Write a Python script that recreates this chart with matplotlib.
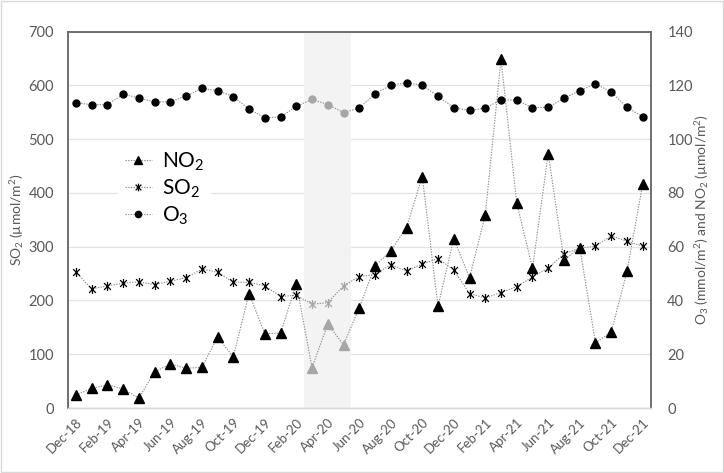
import matplotlib
matplotlib.use("Agg")
import matplotlib.pyplot as plt
from matplotlib.lines import Line2D
from matplotlib.path import Path
from matplotlib.patches import Rectangle
import numpy as np

plt.rcParams['font.family'] = ['Lato', 'DejaVu Sans']
plt.rcParams['mathtext.fontset'] = 'custom'
plt.rcParams['mathtext.rm'] = 'Lato'
plt.rcParams['mathtext.it'] = 'Lato:italic'
plt.rcParams['mathtext.bf'] = 'Lato:bold'

months = ['Dec-18', 'Jan-19', 'Feb-19', 'Mar-19', 'Apr-19', 'May-19', 'Jun-19', 'Jul-19', 'Aug-19',
          'Sep-19', 'Oct-19', 'Nov-19', 'Dec-19', 'Jan-20', 'Feb-20', 'Mar-20', 'Apr-20', 'May-20',
          'Jun-20', 'Jul-20', 'Aug-20', 'Sep-20', 'Oct-20', 'Nov-20', 'Dec-20', 'Jan-21', 'Feb-21',
          'Mar-21', 'Apr-21', 'May-21', 'Jun-21', 'Jul-21', 'Aug-21', 'Sep-21', 'Oct-21', 'Nov-21',
          'Dec-21']

so2 = [252.6, 221.6, 227.2, 232.1, 234.6, 229.6, 235.8, 242.6, 258.2, 252.6, 234.0, 234.0, 227.2,
       207.3, 209.8, 193.1, 196.1, 227.2, 244.5, 248.2, 266.8, 254.5, 268.1, 278.0, 256.9, 212.8,
       204.8, 214.7, 225.8, 243.9, 260.1, 286.7, 297.3, 301.1, 320.2, 310.4, 301.1]

no2 = [4.8, 7.3, 8.6, 7.1, 3.7, 13.4, 16.4, 14.8, 15.1, 26.4, 19.0, 42.6, 27.7, 27.8, 46.2, 15.0,
       31.3, 23.5, 37.3, 52.9, 58.5, 67.1, 86.1, 37.9, 63.0, 48.5, 71.7, 129.8, 76.2, 52.1, 94.6,
       55.0, 59.7, 24.3, 28.2, 50.8, 83.3]

o3 = [113.6, 112.8, 112.9, 116.7, 115.4, 113.8, 114.0, 116.0, 118.9, 118.1, 115.8, 111.2, 108.0,
      108.3, 112.2, 114.8, 112.9, 109.9, 111.6, 116.9, 120.1, 121.0, 120.1, 116.0, 111.7, 110.7,
      111.6, 114.6, 114.6, 111.7, 111.9, 115.2, 118.1, 120.6, 117.6, 111.8, 108.4]

lockdown = ['Mar-20', 'Apr-20', 'May-20']

x = np.arange(len(months))
lock_mask = np.array([m in lockdown for m in months])
lock_idx = np.where(lock_mask)[0]

fig = plt.figure(figsize=(7.24, 4.73), dpi=100)
fig.patches.append(Rectangle((0.002, 0.003), 0.996, 0.994, transform=fig.transFigure,
                             fill=False, edgecolor='#d9d9d9', linewidth=1.0))
ax = fig.add_axes([0.0939, 0.1374, 0.8047, 0.7956])
ax2 = ax.twinx()
ax.set_zorder(1)
ax2.set_zorder(2)
ax.patch.set_facecolor('white')
ax2.patch.set_visible(False)

# gridlines (below) and shaded lockdown region (covers gridlines)
ax.yaxis.grid(True, color='#e3e3e3', lw=0.9)
ax.set_axisbelow(True)
ax.axvspan(lock_idx[0] - 0.5, lock_idx[-1] + 0.5, color='#f3f3f3', zorder=1, lw=0)

# asterisk marker: vertical line plus X
ast_verts = [(0, -1), (0, 1), (-0.75, -0.75), (0.75, 0.75), (-0.75, 0.75), (0.75, -0.75)]
ast_codes = [Path.MOVETO, Path.LINETO, Path.MOVETO, Path.LINETO, Path.MOVETO, Path.LINETO]
ast = Path(ast_verts, ast_codes)

line_col = '#8c8c8c'
gray_mk = '#a6a6a6'
ls = (0, (1.2, 1.2))

# SO2 on left axis
ax.plot(x, so2, color=line_col, lw=0.8, ls=ls, zorder=2)
ax.plot(x[~lock_mask], np.array(so2)[~lock_mask], ls='none', marker=ast, ms=6.5,
        mec='black', mew=0.9, zorder=3)
ax.plot(x[lock_mask], np.array(so2)[lock_mask], ls='none', marker=ast, ms=6.5,
        mec=gray_mk, mew=0.9, zorder=3)

# NO2 and O3 on right axis
for vals, mk, ms in [(no2, '^', 6.5), (o3, 'o', 5.0)]:
    v = np.array(vals)
    ax2.plot(x, v, color=line_col, lw=0.8, ls=ls, zorder=2)
    ax2.plot(x[~lock_mask], v[~lock_mask], ls='none', marker=mk, ms=ms, mfc='black',
             mec='black', zorder=3)
    ax2.plot(x[lock_mask], v[lock_mask], ls='none', marker=mk, ms=ms, mfc=gray_mk,
             mec=gray_mk, zorder=3)

ax.set_xlim(-0.5, len(months) - 0.5)
ax.set_ylim(0, 700)
ax.set_yticks(np.arange(0, 701, 100))
ax2.set_ylim(0, 140)
ax2.set_yticks(np.arange(0, 141, 20))

ax.set_xticks(x[::2])
ax.set_xticklabels(months[::2], rotation=45, ha='right', rotation_mode='anchor',
                   fontsize=9.5, color='#595959')
ax.tick_params(axis='x', length=0, pad=6)
ax.tick_params(axis='y', length=0, labelsize=10.5, labelcolor='#595959', pad=10)
ax2.tick_params(axis='y', length=0, labelsize=10.5, labelcolor='#595959', pad=12)

for a in (ax, ax2):
    for s in ('left', 'top', 'right'):
        a.spines[s].set_color('#6e6e6e')
        a.spines[s].set_linewidth(1.2)
    a.spines['bottom'].set_color('#d9d9d9')
    a.spines['bottom'].set_linewidth(1.0)

ax.set_ylabel('SO$_2$ (µmol/m$^2$)', fontsize=10, color='#595959', labelpad=2)
ax2.set_ylabel('O$_3$ (mmol/m$^2$) and NO$_2$ (µmol/m$^2$)', fontsize=10, color='#595959',
               labelpad=0)

handles = [
    Line2D([], [], color=line_col, lw=0.8, ls=ls, marker='^', ms=5.5, mfc='black', mec='black'),
    Line2D([], [], color=line_col, lw=0.8, ls=ls, marker=ast, ms=5.5, mec='black', mew=0.9),
    Line2D([], [], color=line_col, lw=0.8, ls=ls, marker='o', ms=4.5, mfc='black', mec='black'),
]
labels = ['NO$_2$', 'SO$_2$', 'O$_3$']
leg = ax2.legend(handles, labels, loc='upper left', bbox_to_anchor=(108 / 724, 1 - 134 / 473),
                 bbox_transform=fig.transFigure, fontsize=15, frameon=True, facecolor='white',
                 edgecolor='none', framealpha=1, fancybox=False, handlelength=1.3,
                 handletextpad=0.5, labelspacing=0.22, borderpad=0.3)
leg.set_zorder(10)

fig.savefig('out.png', dpi=100)
